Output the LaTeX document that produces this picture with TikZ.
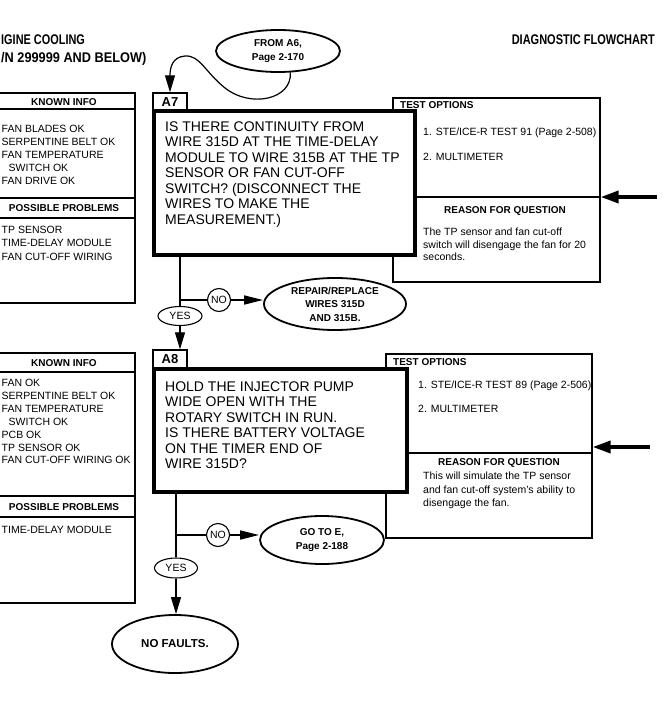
\documentclass[tikz,border=0pt]{standalone}
\usepackage{fontspec}
\setmainfont{Liberation Sans}
\usepackage{graphicx}
\usetikzlibrary{arrows.meta,shapes.geometric}
\begin{document}
\begin{tikzpicture}[x=1pt,y=-1pt,
  conn/.style={line width=1.2pt},
  arr/.style={line width=1.2pt,-{Triangle[length=17pt,width=10pt]}},
  noarr/.style={line width=1.6pt,-{Triangle[length=19pt,width=9pt]}},
  bigarr/.style={line width=3.6pt,-{Triangle[length=18pt,width=12pt]}},
  mainbox/.style={draw,rectangle,line width=3.8pt,fill=white,inner sep=0pt},
  labelbox/.style={draw,rectangle,line width=1.4pt,fill=white,inner sep=0pt,font=\fontsize{13}{13}\selectfont\bfseries},
  infobox/.style={draw,rectangle,line width=1.2pt,inner sep=0pt},
  infoline/.style={line width=1.2pt},
  term/.style={draw,ellipse,line width=1.8pt,fill=white,inner sep=0pt,align=center,font=\fontsize{10}{13.5}\selectfont\bfseries},
  yesno/.style={draw,ellipse,line width=1.1pt,fill=white,inner sep=0pt,font=\fontsize{10.5}{10.5}\selectfont},
  qtxt/.style={anchor=base west,inner sep=0pt,font=\fontsize{14}{14}\selectfont},
  itemtxt/.style={anchor=base west,inner sep=0pt,font=\fontsize{10.5}{10.5}\selectfont},
  hdrtxt/.style={anchor=base,inner sep=0pt,font=\fontsize{10}{10}\selectfont\bfseries},
  hdrleft/.style={anchor=base west,inner sep=0pt,font=\fontsize{10}{10}\selectfont\bfseries},
  titletxt/.style={inner sep=0pt,font=\fontsize{14}{14}\selectfont\bfseries}
]
\useasboundingbox (0,0) rectangle (669,709);
\fill[white] (0,0) rectangle (669,709);

% titles
\node[titletxt,anchor=base west] (title1) at (1,45) {\scalebox{0.78}[1]{IGINE COOLING}};
\node[titletxt,anchor=base west] (title2) at (1,62.5) {\scalebox{0.91}[1]{/N 299999 AND BELOW)}};
\node[titletxt,anchor=base east] (title3) at (655,45) {\scalebox{0.786}[1]{DIAGNOSTIC FLOWCHART}};

% ---------- left info boxes ----------
\node[infobox,minimum width=145,minimum height=210] (kb1) at (62.5,198) {};
\draw[infoline] (-10,109) -- (135,109);
\draw[infoline] (-10,198) -- (135,198);
\draw[infoline] (-10,218) -- (135,218);
\node[hdrtxt] (kb1h) at (64,105.6) {KNOWN INFO};
\node[hdrtxt] (kb1p) at (64,211.6) {POSSIBLE PROBLEMS};
\foreach \t [count=\i] in {{FAN BLADES OK},{SERPENTINE BELT OK},{FAN TEMPERATURE},{\hspace*{7pt}SWITCH OK},{FAN DRIVE OK}}
  \node[itemtxt] (kb1i\i) at (1.5,{132+13*(\i-1)}) {\t};
\foreach \t [count=\i] in {{TP SENSOR},{TIME-DELAY MODULE},{FAN CUT-OFF WIRING}}
  \node[itemtxt] (kb1q\i) at (1.5,{233+13.5*(\i-1)}) {\t};

\node[infobox,minimum width=145,minimum height=250] (kb2) at (62.5,478) {};
\draw[infoline] (-10,372) -- (135,372);
\draw[infoline] (-10,496) -- (135,496);
\draw[infoline] (-10,517) -- (135,517);
\node[hdrtxt] (kb2h) at (64,366) {KNOWN INFO};
\node[hdrtxt] (kb2p) at (64,510.5) {POSSIBLE PROBLEMS};
\foreach \t [count=\i] in {{FAN OK},{SERPENTINE BELT OK},{FAN TEMPERATURE},{\hspace*{7pt}SWITCH OK},{PCB OK},{TP SENSOR OK},{FAN CUT-OFF WIRING OK}}
  \node[itemtxt] (kb2i\i) at (1.5,{386.8+12.85*(\i-1)}) {\t};
\node[itemtxt] (kb2q1) at (1.5,533.8) {TIME-DELAY MODULE};

% ---------- test option boxes ----------
\node[infobox,line width=1.3pt,minimum width=207,minimum height=184] (tb1) at (496.5,190) {};
\draw[line width=1.3pt] (415,197) -- (600,197);
\node[infobox,line width=1.3pt,minimum width=206,minimum height=184] (tb2) at (489,446) {};
\draw[line width=1.3pt] (407,453) -- (592,453);

% ---------- label boxes and question boxes ----------
\node[labelbox,minimum width=34,minimum height=18] (a7) at (170,102) {A7};
\node[mainbox,minimum width=261,minimum height=144] (q1) at (284.5,183) {};
\node[labelbox,minimum width=34,minimum height=19] (a8) at (170,359.5) {A8};
\node[mainbox,minimum width=253,minimum height=123] (q2) at (280.5,430.5) {};

\foreach \t [count=\i] in {{IS THERE CONTINUITY FROM},{WIRE 315D AT THE TIME-DELAY},{MODULE TO WIRE 315B AT THE TP},{SENSOR OR FAN CUT-OFF},{SWITCH? (DISCONNECT THE},{WIRES TO MAKE THE},{MEASUREMENT.)}}
  \node[qtxt] (q1l\i) at (165,{131+15.5*(\i-1)}) {\t};
\foreach \t [count=\i] in {{HOLD THE INJECTOR PUMP},{WIDE OPEN WITH THE},{ROTARY SWITCH IN RUN.},{IS THERE BATTERY VOLTAGE},{ON THE TIMER END OF},{WIRE 315D?}}
  \node[qtxt] (q2l\i) at (165,{391+15.5*(\i-1)}) {\t};

% test options texts
\node[hdrleft] (tb1h) at (400,108.5) {TEST OPTIONS};
\node[itemtxt] (tb1o1) at (423,135.8) {1. STE/ICE-R TEST 91 (Page 2-508)};
\node[itemtxt] (tb1o2) at (423,160.8) {2. MULTIMETER};
\node[hdrtxt] (tb1r) at (505,213.6) {REASON FOR QUESTION};
\foreach \t [count=\i] in {{The TP sensor and fan cut-off},{switch will disengage the fan for 20},{seconds.}}
  \node[itemtxt] (tb1t\i) at (423,{235.8+12.5*(\i-1)}) {\t};

\node[hdrleft] (tb2h) at (393,365.6) {TEST OPTIONS};
\node[itemtxt] (tb2o1) at (418,388.8) {1. STE/ICE-R TEST 89 (Page 2-506)};
\node[itemtxt] (tb2o2) at (418,412.8) {2. MULTIMETER};
\node[hdrtxt] (tb2r) at (499,465.6) {REASON FOR QUESTION};
\foreach \t [count=\i] in {{This will simulate the TP sensor},{and fan cut-off system's ability to},{disengage the fan.}}
  \node[itemtxt] (tb2t\i) at (423,{479.8+13.3*(\i-1)}) {\t};

% ---------- terminals ----------
\node[term,minimum width=124,minimum height=42] (froma6) at (278,51) {FROM A6,\\Page 2-170};
\node[term,minimum width=142,minimum height=52] (repair) at (335,304) {REPAIR/REPLACE\\WIRES 315D\\AND 315B.};
\node[term,minimum width=124,minimum height=48] (goto) at (322,540) {GO TO E,\\Page 2-188};
\node[term,minimum width=126,minimum height=58,font=\fontsize{11.5}{11.5}\selectfont\bfseries] (nofault) at (175,644) {NO FAULTS.};

\node[yesno,minimum width=44,minimum height=19] (yes1) at (180,316) {YES};
\node[yesno,circle,minimum size=23] (no1) at (219,300) {NO};
\node[yesno,minimum width=43,minimum height=20] (yes2) at (176,568) {YES};
\node[yesno,circle,minimum size=23] (no2) at (218,535) {NO};

% ---------- connectors ----------
\draw[arr] (froma6.-60) .. controls (292,100) and (250,108) .. (225,88)
  .. controls (205,72) and (200,55) .. (185,56)
  .. controls (172,57) and (170,68) .. (a7.north);

\coordinate (b1) at (180,300);
\draw[conn] (q1.south -| yes1.north) -- (yes1.north);
\draw[arr] (yes1.south) -- (a8.north -| yes1.south);
\draw[conn] (b1) -- (no1.west);
\draw[noarr] (no1.east) -- (no1.east -| repair.west);

\coordinate (b2) at (176,535);
\draw[conn] (q2.south -| yes2.north) -- (yes2.north);
\draw[arr] (yes2.south) -- (nofault.north -| yes2.south);
\draw[conn] (b2) -- (no2.west);
\draw[noarr] (no2.east) -- (no2.east -| goto.west);

\coordinate (ra1) at (657,197);
\draw[bigarr] (ra1) -- (ra1 -| tb1.east);
\coordinate (ra2) at (650,447);
\draw[bigarr] (ra2) -- (ra2 -| tb2.east);
\end{tikzpicture}
\end{document}
